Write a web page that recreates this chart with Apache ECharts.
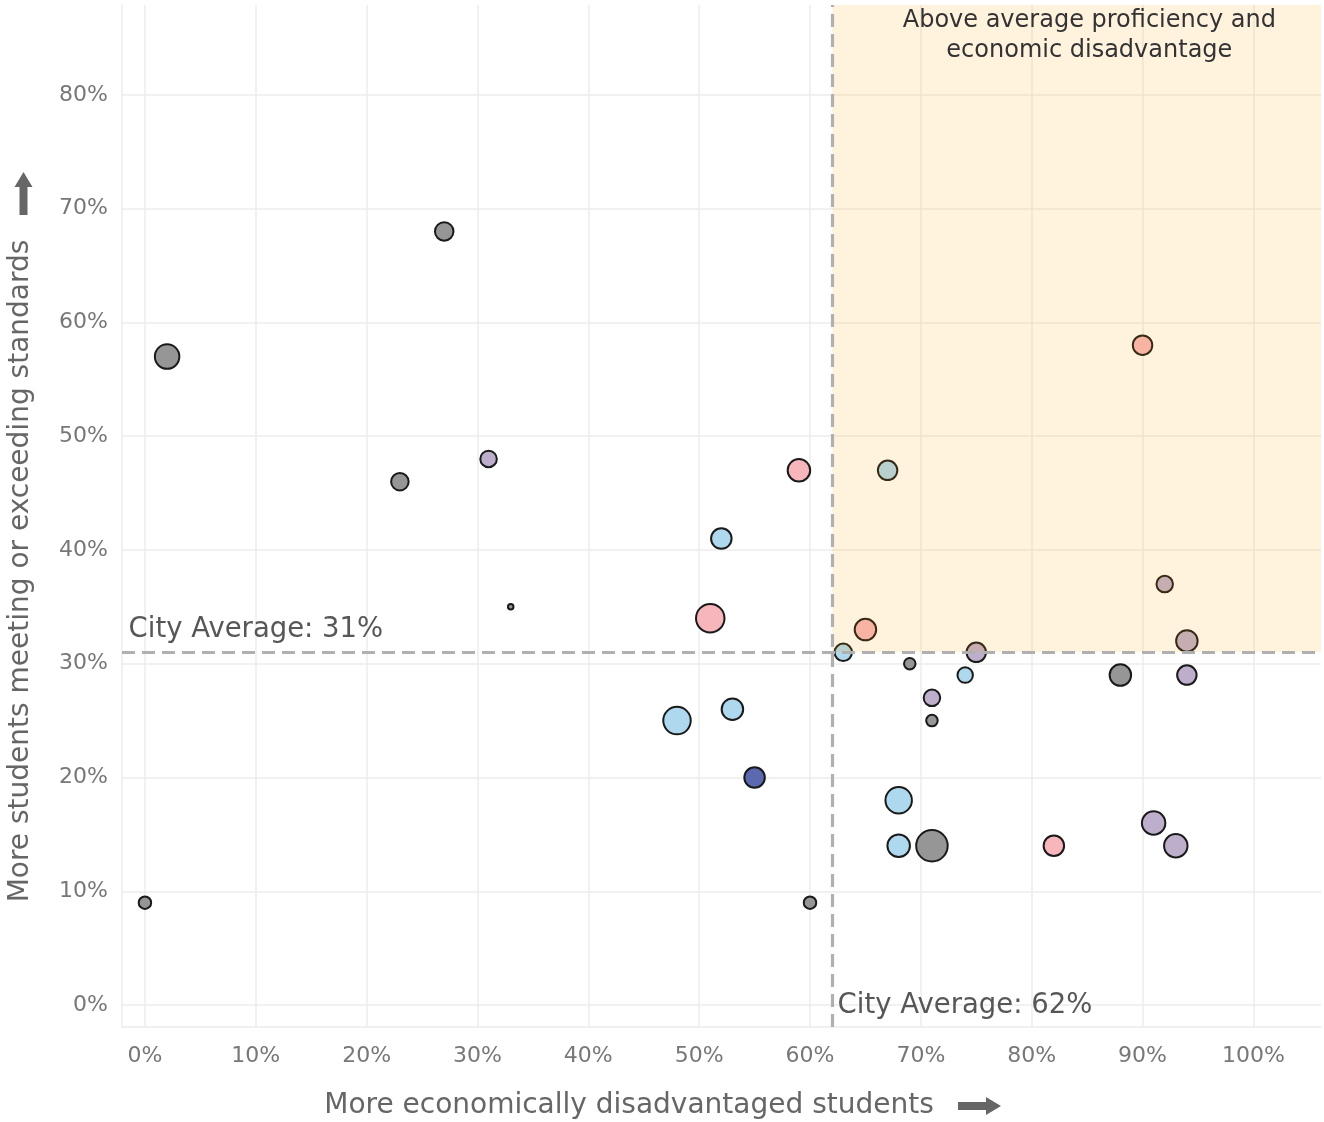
<!DOCTYPE html>
<html>
<head>
<meta charset="utf-8">
<script src="https://cdn.jsdelivr.net/npm/echarts@6/dist/echarts.min.js"></script>
<style>
  html, body { margin: 0; padding: 0; background: #fff; }
  #chart { width: 1324px; height: 1122px; }
</style>
</head>
<body>
<div id="chart"></div>
<script>
// one entry per school
var disadvantaged = [2, 27, 23, 31, 33, 0, 51, 59, 52, 48, 53, 55, 60, 63, 65, 67,
  69, 71, 71, 74, 75, 88, 94, 94, 92, 90, 68, 68, 71, 82, 91, 93];
var proficient = [57, 68, 46, 48, 35, 9, 34, 47, 41, 25, 26, 20, 9, 31, 33, 47,
  30, 27, 25, 29, 31, 29, 29, 32, 37, 58, 18, 14, 14, 14, 16, 14];
var enrollment = [1520, 900, 810, 730, 110, 440, 2025, 1300, 1090, 1890, 1190, 1090, 440, 810, 1190, 990,
  380, 730, 380, 650, 990, 1190, 990, 1190, 730, 990, 1760, 1300, 2450, 1090, 1400, 1400];
var group = ['gray', 'gray', 'gray', 'purple', 'gray', 'gray', 'pink', 'pink', 'blue', 'blue', 'blue', 'navy', 'gray', 'blue', 'pink', 'blue',
  'gray', 'purple', 'gray', 'blue', 'purple', 'gray', 'purple', 'purple', 'purple', 'pink', 'blue', 'blue', 'gray', 'pink', 'purple', 'purple'];

var cityAvgDisadvantaged = 62;
var cityAvgProficient = 31;
var xTicks = [0, 10, 20, 30, 40, 50, 60, 70, 80, 90, 100];
var yTicks = [0, 10, 20, 30, 40, 50, 60, 70, 80];

var colors = {
  gray: '#969696',
  blue: '#aed8ed',
  pink: '#f7b6bb',
  purple: '#bdafcc',
  navy: '#5a69b0'
};
var font = 'DejaVu Sans';
var X_MIN = -2.07, X_MAX = 106.1, Y_MIN = -1.93, Y_MAX = 87.9;

function tickFormatter(ticks) {
  return function (v) {
    for (var i = 0; i < ticks.length; i++) {
      if (Math.abs(ticks[i] - v) < 1e-6) return ticks[i] + '%';
    }
    return '';
  };
}

var points = disadvantaged.map(function (x, i) {
  return [x, proficient[i], enrollment[i]];
});

var chart = echarts.init(document.getElementById('chart'));

chart.setOption({
  animation: false,
  grid: { left: 122, right: 0, top: 5, bottom: 95 },
  xAxis: {
    type: 'value', min: X_MIN, max: X_MAX, splitNumber: 10,
    axisLine: { show: true, onZero: false, lineStyle: { color: '#ececec', width: 1.5 } },
    axisTick: { show: false },
    axisLabel: { formatter: tickFormatter(xTicks), color: '#777', fontSize: 22, margin: 18, fontFamily: font },
    splitLine: { show: true, showMinLine: false, showMaxLine: false, lineStyle: { color: '#ececec', width: 1.5 } }
  },
  yAxis: {
    type: 'value', min: Y_MIN, max: Y_MAX, splitNumber: 9,
    axisLine: { show: true, onZero: false, lineStyle: { color: '#ececec', width: 1.5 } },
    axisTick: { show: false },
    axisLabel: { formatter: tickFormatter(yTicks), color: '#777', fontSize: 22, margin: 14, fontFamily: font },
    splitLine: { show: true, showMinLine: false, showMaxLine: false, lineStyle: { color: '#ececec', width: 1.5 } }
  },
  series: [
    {
      type: 'scatter',
      z: 2,
      data: points,
      symbolSize: function (v) { return Math.sqrt(v[2]) / 1.5 - 1.5; },
      itemStyle: {
        color: function (p) { return colors[group[p.dataIndex]]; },
        borderColor: '#1a1a1a',
        borderWidth: 2,
        opacity: 1
      },
      emphasis: { disabled: true }
    },
    {
      // shaded quadrant, drawn over the bubbles like a translucent layer
      type: 'custom',
      z: 3,
      silent: true,
      data: [[cityAvgDisadvantaged, cityAvgProficient]],
      encode: { x: 0, y: 1 },
      renderItem: function (params, api) {
        var p = api.coord([api.value(0), api.value(1)]);
        var cs = params.coordSys;
        return {
          type: 'rect',
          shape: { x: p[0], y: cs.y, width: cs.x + cs.width - p[0], height: p[1] - cs.y },
          style: { fill: 'rgba(255,165,0,0.13)' }
        };
      },
      markLine: {
        silent: true,
        symbol: 'none',
        label: { show: false },
        lineStyle: { color: '#b0b0b0', width: 3.2, type: [13, 7] },
        data: [{ xAxis: cityAvgDisadvantaged }, { yAxis: cityAvgProficient }]
      }
    },
    {
      type: 'scatter',
      z: 6,
      silent: true,
      symbolSize: 2,
      itemStyle: { color: 'rgba(0,0,0,0)', borderWidth: 0 },
      emphasis: { disabled: true },
      label: { show: true, color: '#575757', opacity: 1, fontFamily: font, fontSize: 27.5, position: 'right', distance: 0 },
      data: [
        { value: [X_MIN + 0.5, cityAvgProficient], label: { formatter: 'City Average: ' + cityAvgProficient + '%', offset: [0, -22] } },
        { value: [cityAvgDisadvantaged + 0.4, 0], label: { formatter: 'City Average: ' + cityAvgDisadvantaged + '%', offset: [0, 1] } },
        { value: [85.2, 85.2], label: { formatter: 'Above average proficiency and\neconomic disadvantage', position: 'inside', align: 'center', fontSize: 24, lineHeight: 30, color: '#333' } }
      ]
    }
  ],
  graphic: [
    {
      type: 'text', x: 629, y: 1106,
      style: {
        text: 'More economically disadvantaged students',
        fill: '#666', font: '28px "DejaVu Sans"', align: 'center', verticalAlign: 'middle'
      }
    },
    {
      type: 'polygon',
      shape: { points: [[958, 1102], [986, 1102], [986, 1097], [1001, 1106], [986, 1115], [986, 1110], [958, 1110]] },
      style: { fill: '#666' }
    },
    {
      type: 'text', x: 21, y: 571, rotation: Math.PI / 2,
      style: {
        text: 'More students meeting or exceeding standards',
        fill: '#666', font: '28px "DejaVu Sans"', align: 'center', verticalAlign: 'middle'
      }
    },
    {
      type: 'polygon',
      shape: { points: [[19.5, 215], [19.5, 187], [14.5, 187], [23.5, 172], [32.5, 187], [27.5, 187], [27.5, 215]] },
      style: { fill: '#666' }
    }
  ]
});
</script>
</body>
</html>
